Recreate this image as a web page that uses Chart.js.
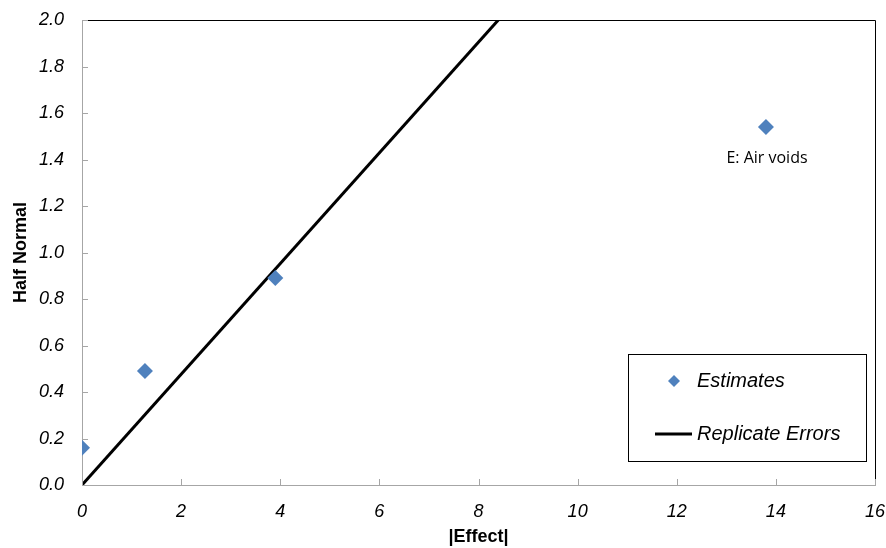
<!DOCTYPE html>
<html lang="en">
<head>
    <meta charset="UTF-8">
    <title>Half Normal Plot</title>
    <script src="https://cdn.jsdelivr.net/npm/chart.js"></script>
    <style>
        html, body { margin: 0; padding: 0; background: #fff; }
        #wrap { width: 886px; height: 548px; }
    </style>
</head>
<body>
    <div id="wrap"><canvas id="halfNormal" width="886" height="548"></canvas></div>

    <script>
        // data
        const effectX = [0, 1.27, 3.9, 13.8];
        const halfNormalY = [0.16, 0.49, 0.89, 1.54];
        const pointNames = ["", "", "", "E: Air voids"];
        const refLineX = [0, 8.4];
        const refLineY = [0, 2.0];
        const seriesLabels = ["Estimates", "Replicate Errors"];

        const blue = "#4F81BD";
        const axisGrey = "#A6A6A6";

        // inner ticks, black top/right frame, point label and boxed legend
        const extras = {
            id: "extras",
            afterDraw(chart) {
                const ctx = chart.ctx;
                const a = chart.chartArea;
                const xs = chart.scales.x, ys = chart.scales.y;
                ctx.save();

                // frame top and right
                ctx.strokeStyle = "#000";
                ctx.lineWidth = 1;
                ctx.beginPath();
                ctx.moveTo(a.left + 0.5, a.top + 0.5);
                ctx.lineTo(a.right + 0.5, a.top + 0.5);
                ctx.lineTo(a.right + 0.5, a.bottom);
                ctx.stroke();

                // tick marks pointing into the plot
                ctx.strokeStyle = axisGrey;
                ctx.beginPath();
                ys.ticks.forEach(t => {
                    const y = Math.round(ys.getPixelForValue(t.value)) + 0.5;
                    ctx.moveTo(a.left, y);
                    ctx.lineTo(a.left + 6, y);
                });
                xs.ticks.forEach(t => {
                    const x = Math.round(xs.getPixelForValue(t.value)) + 0.5;
                    ctx.moveTo(x, a.bottom);
                    ctx.lineTo(x, a.bottom - 6);
                });
                ctx.stroke();

                // label under the outlying point
                ctx.fillStyle = "#000";
                ctx.font = "16px 'Open Sans', sans-serif";
                ctx.textAlign = "center";
                ctx.textBaseline = "middle";
                pointNames.forEach((name, i) => {
                    if (!name) return;
                    const px = xs.getPixelForValue(effectX[i]);
                    const py = ys.getPixelForValue(halfNormalY[i]);
                    ctx.fillText(name, px + 1, py + 31);
                });

                // legend box
                const bx = 628.5, by = 354.5, bw = 238, bh = 107;
                ctx.fillStyle = "#fff";
                ctx.fillRect(bx, by, bw, bh);
                ctx.strokeStyle = "#000";
                ctx.strokeRect(bx, by, bw, bh);

                ctx.fillStyle = blue;
                ctx.beginPath();
                ctx.moveTo(674, 375);
                ctx.lineTo(680, 381);
                ctx.lineTo(674, 387);
                ctx.lineTo(668, 381);
                ctx.closePath();
                ctx.fill();

                ctx.strokeStyle = "#000";
                ctx.lineWidth = 3;
                ctx.beginPath();
                ctx.moveTo(655, 434);
                ctx.lineTo(692, 434);
                ctx.stroke();

                ctx.fillStyle = "#000";
                ctx.font = "italic 20px 'Liberation Sans', Arial, sans-serif";
                ctx.textAlign = "left";
                ctx.fillText(seriesLabels[0], 697, 381);
                ctx.fillText(seriesLabels[1], 697, 434);
                ctx.restore();
            }
        };

        const ctx = document.getElementById("halfNormal").getContext("2d");
        new Chart(ctx, {
            type: "scatter",
            data: {
                datasets: [
                    {
                        label: seriesLabels[0],
                        data: effectX.map((x, i) => ({ x: x, y: halfNormalY[i] })),
                        pointStyle: "rectRot",
                        pointRadius: 8,
                        pointBackgroundColor: blue,
                        pointBorderWidth: 0,
                        showLine: false
                    },
                    {
                        label: seriesLabels[1],
                        data: refLineX.map((x, i) => ({ x: x, y: refLineY[i] })),
                        showLine: true,
                        borderColor: "#000",
                        borderWidth: 3,
                        pointRadius: 0,
                        clip: 0
                    }
                ]
            },
            options: {
                responsive: false,
                animation: false,
                layout: { padding: { top: 20, right: 11, left: 0, bottom: 0 } },
                plugins: {
                    legend: { display: false },
                    tooltip: { enabled: false }
                },
                scales: {
                    x: {
                        type: "linear",
                        min: 0,
                        max: 16,
                        afterFit: s => { s.height = 63; s.paddingRight = 0; s.paddingLeft = 0; },
                        grid: { display: false, drawTicks: false },
                        border: { display: true, color: axisGrey, width: 1 },
                        ticks: {
                            stepSize: 2,
                            padding: 16,
                            color: "#000",
                            font: { family: "'Liberation Sans', Arial", size: 18, style: "italic" }
                        },
                        title: {
                            display: true,
                            text: "|Effect|",
                            color: "#000",
                            padding: { top: 2, bottom: 0 },
                            font: { family: "'Liberation Sans', Arial", size: 18, weight: "bold" }
                        }
                    },
                    y: {
                        type: "linear",
                        min: 0,
                        max: 2,
                        afterFit: s => { s.width = 82; s.paddingTop = 0; s.paddingBottom = 0; },
                        grid: { display: false, drawTicks: false },
                        border: { display: true, color: axisGrey, width: 1 },
                        ticks: {
                            stepSize: 0.2,
                            padding: 18,
                            color: "#000",
                            font: { family: "'Liberation Sans', Arial", size: 18, style: "italic" },
                            callback: v => v.toFixed(1)
                        },
                        title: {
                            display: true,
                            text: "Half Normal",
                            color: "#000",
                            padding: { top: 10, bottom: 0 },
                            font: { family: "'Liberation Sans', Arial", size: 18, weight: "bold" }
                        }
                    }
                }
            },
            plugins: [extras]
        });
    </script>
</body>
</html>
